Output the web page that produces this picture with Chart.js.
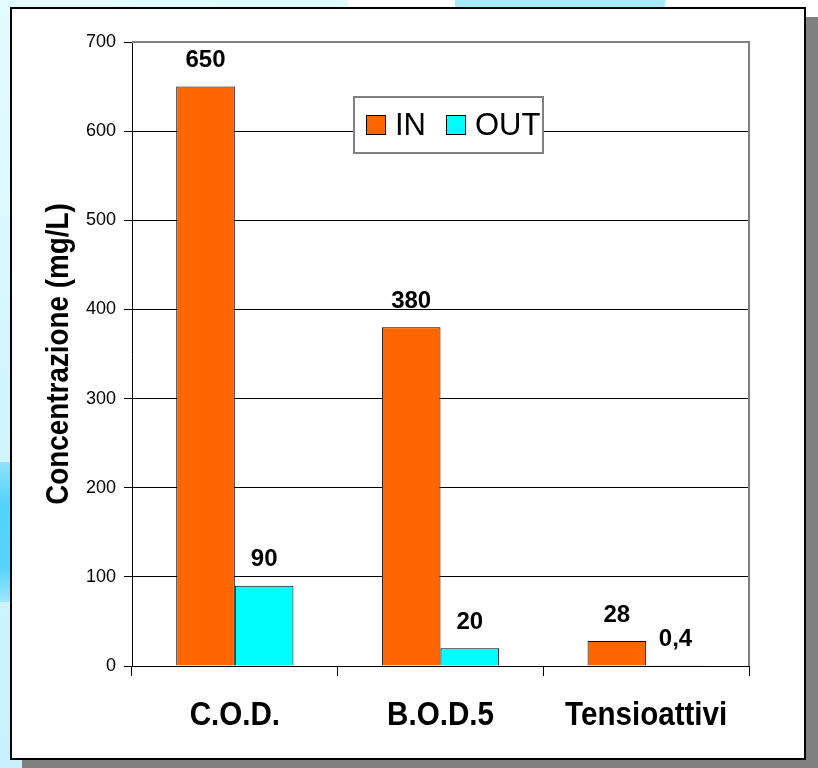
<!DOCTYPE html>
<html>
<head>
<meta charset="utf-8">
<script src="https://cdn.jsdelivr.net/npm/chart.js@4.4.1/dist/chart.umd.min.js"></script>
<style>
  html, body { margin: 0; padding: 0; }
  body {
    width: 818px; height: 768px; position: relative; overflow: hidden;
    background: linear-gradient(170deg, #e2fcff 0%, #cdf4ff 55%, #c6f0ff 100%);
  }
  .patch { position: absolute; }
  #panel {
    position: absolute; left: 10px; top: 7px;
    width: 792px; height: 749px;
    background: #fff; border: 2px solid #000;
    box-shadow: 12px 10px 0 #808080;
  }
  canvas { display: block; }
</style>
</head>
<body>
<div class="patch" style="left:348px;top:0;width:107px;height:8px;background:#fff"></div>
<div class="patch" style="left:455px;top:0;width:210px;height:8px;background:#a7e9ff"></div>
<div class="patch" style="left:665px;top:0;width:153px;height:8px;background:#fff"></div>
<div class="patch" style="left:806px;top:0;width:12px;height:18px;background:#fff"></div>
<div class="patch" style="left:0;top:462px;width:11px;height:140px;background:linear-gradient(180deg,#8fe2ff 0%,#52d3ff 30%,#55d4ff 75%,#9fe6ff 100%)"></div>
<div id="panel"><canvas id="chart" width="792" height="749"></canvas></div>

<script>
// Concentrations in mg/L, inflow (IN) and outflow (OUT)
const categories = ['C.O.D.', 'B.O.D.5', 'Tensioattivi'];
const seriesNames = ['IN', 'OUT'];
const valuesIn = [650, 380, 28];
const valuesOut = [90, 20, 0.4];
const yTicks = [0, 100, 200, 300, 400, 500, 600, 700];
const yTitle = 'Concentrazione (mg/L)';

const colorIn = '#FF6600';
const colorOut = '#00FFFF';
const sans = '"Liberation Sans", Arial, sans-serif';
const squeeze = 0.87;   // condensed look for axis texts

const fmt = v => String(v).replace('.', ',');

// value printed above each bar
const valueLabels = {
  id: 'valueLabels',
  afterDatasetsDraw(chart) {
    const ctx = chart.ctx;
    ctx.save();
    ctx.font = 'bold 24px ' + sans;
    ctx.fillStyle = '#000';
    ctx.textAlign = 'center';
    ctx.textBaseline = 'middle';
    chart.data.datasets.forEach((ds, i) => {
      chart.getDatasetMeta(i).data.forEach((bar, j) => {
        ctx.fillText(fmt(ds.data[j]), bar.x, bar.y - 26);
      });
    });
    ctx.restore();
  }
};

// condensed bold category names and rotated y-axis title
const axisTexts = {
  id: 'axisTexts',
  afterDraw(chart) {
    const {ctx, chartArea: a} = chart;
    const xs = chart.scales.x, ys = chart.scales.y;
    ctx.save();
    ctx.fillStyle = '#000';
    ctx.textAlign = 'center';
    ctx.textBaseline = 'middle';
    ctx.font = 'bold 34px ' + sans;
    chart.data.labels.forEach((lab, i) => {
      ctx.save();
      ctx.translate(xs.getPixelForTick(i), a.bottom + 50);
      ctx.scale(squeeze, 1);
      ctx.fillText(lab, 0, 0);
      ctx.restore();
    });
    ctx.font = 'bold 32px ' + sans;
    ctx.save();
    ctx.translate(ys.left + 47, (ys.top + ys.bottom) / 2);
    ctx.rotate(-Math.PI / 2);
    ctx.scale(squeeze, 1);
    ctx.fillText(yTitle, 0, 0);
    ctx.restore();
    ctx.restore();
  }
};

// grey frame on the top and right of the plot area
const plotFrame = {
  id: 'plotFrame',
  beforeDatasetsDraw(chart) {
    const {ctx, chartArea: a} = chart;
    ctx.save();
    ctx.strokeStyle = '#808080';
    ctx.lineWidth = 2;
    ctx.beginPath();
    ctx.moveTo(a.left, a.top);
    ctx.lineTo(a.right, a.top);
    ctx.lineTo(a.right, a.bottom);
    ctx.stroke();
    ctx.restore();
  }
};

// boxed legend sitting inside the plot area
const boxLegend = {
  id: 'boxLegend',
  afterDraw(chart) {
    const {ctx, chartArea: a} = chart;
    const x = a.left + 222, y = a.top + 55, w = 189, h = 56;
    ctx.save();
    ctx.fillStyle = '#fff';
    ctx.fillRect(x, y, w, h);
    ctx.strokeStyle = '#808080';
    ctx.lineWidth = 2;
    ctx.strokeRect(x, y, w, h);
    const offsets = [12, 92];
    ctx.font = '31px ' + sans;
    ctx.textBaseline = 'middle';
    ctx.textAlign = 'left';
    chart.data.datasets.forEach((ds, i) => {
      const sx = x + offsets[i];
      ctx.fillStyle = ds.backgroundColor;
      ctx.fillRect(sx, y + 18, 20, 20);
      ctx.strokeStyle = '#000';
      ctx.lineWidth = 1;
      ctx.strokeRect(sx + 0.5, y + 18.5, 19, 19);
      ctx.fillStyle = '#000';
      ctx.fillText(ds.label, sx + 29, y + 29);
    });
    ctx.restore();
  }
};

new Chart(document.getElementById('chart'), {
  type: 'bar',
  data: {
    labels: categories,
    datasets: [
      { label: seriesNames[0], data: valuesIn, backgroundColor: colorIn,
        borderColor: '#000', borderWidth: 1, categoryPercentage: 0.57, barPercentage: 1 },
      { label: seriesNames[1], data: valuesOut, backgroundColor: colorOut,
        borderColor: '#000', borderWidth: 1, categoryPercentage: 0.57, barPercentage: 1 }
    ]
  },
  options: {
    responsive: false,
    animation: false,
    devicePixelRatio: 1,
    layout: { padding: { left: 0, top: 33, right: 55, bottom: 0 } },
    plugins: { legend: { display: false }, tooltip: { enabled: false } },
    scales: {
      x: {
        type: 'category',
        afterFit(scale) { scale.height = 92; },
        grid: { offset: true, drawOnChartArea: false, tickLength: 10, color: '#000', lineWidth: 1 },
        border: { color: '#000', width: 1 },
        ticks: { display: false }
      },
      y: {
        min: 0, max: 700,
        afterFit(scale) { scale.width = 120; },
        afterBuildTicks(scale) { scale.ticks = yTicks.map(v => ({ value: v })); },
        grid: { color: ctx => (ctx.tick && ctx.tick.value === 700 ? '#808080' : '#000'),
                tickColor: '#000', tickLength: 8, lineWidth: 1 },
        border: { color: '#000', width: 1 },
        ticks: { color: '#000', padding: 8, font: { family: sans, size: 18 } },
        title: { display: false }
      }
    }
  },
  plugins: [plotFrame, valueLabels, axisTexts, boxLegend]
});
</script>
</body>
</html>
